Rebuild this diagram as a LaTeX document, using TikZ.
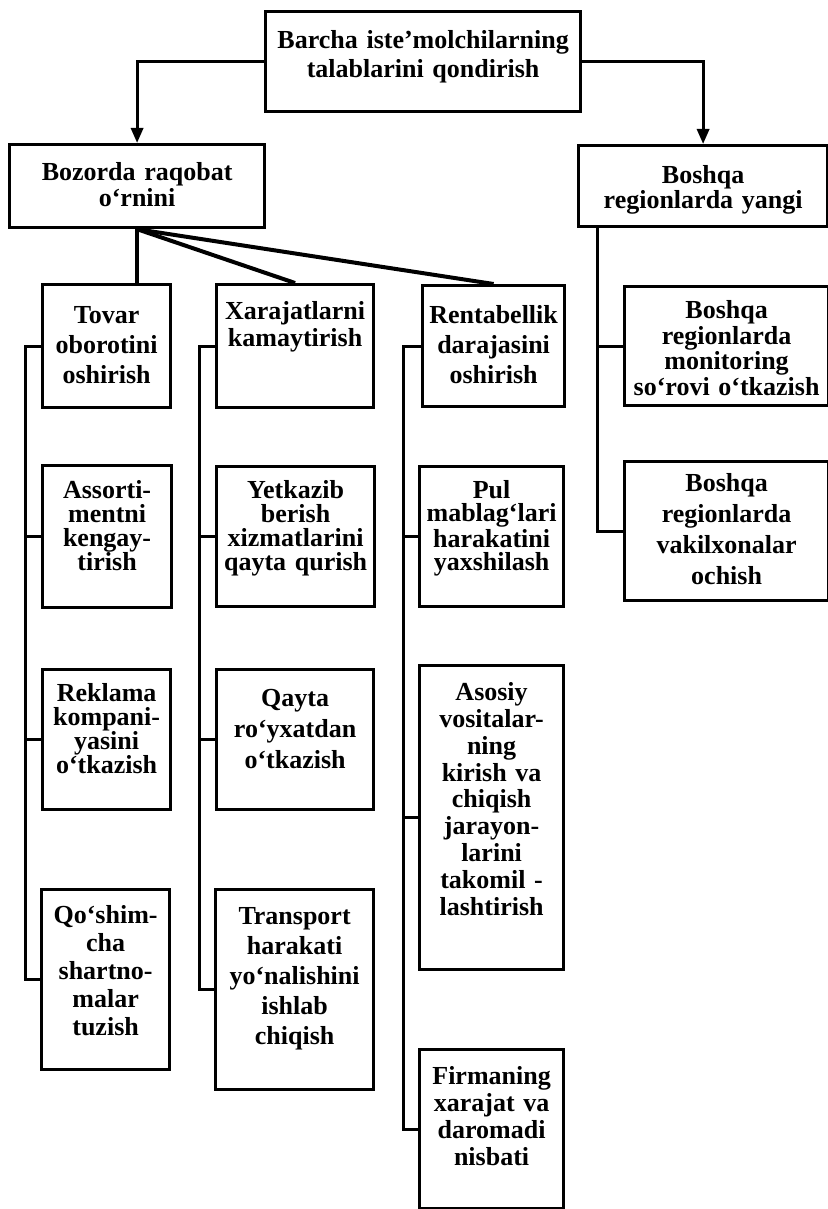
\documentclass[tikz,border=0pt]{standalone}
\usepackage{fontspec}
\setmainfont{Liberation Serif}
\usetikzlibrary{
    arrows.meta
}

\begin{document}
\begin{tikzpicture}[
    x=0.5pt, y=-0.5pt,
    >={Triangle[width=6pt,length=7.5pt]},
    cell/.style={draw, line width=1.6pt, anchor=north west, inner sep=0pt,
        align=center, text height=17pt, font=\bfseries\fontsize{13pt}{14pt}\selectfont},
    lead/.style={font=\bfseries\fontsize{13pt}{#1}\selectfont},
    link/.style={line width=1.5pt},
    fan/.style={line width=2pt},
    arr/.style={->, line width=1.6pt}
]
\useasboundingbox (0,0) rectangle (828,1209);

% Goal and first level
\node[cell, text width=157.5pt, text height=18.5pt, text depth=31.5pt, lead=14.5pt] (goal) at (264,10) {Barcha iste’molchilarning\\talablarini qondirish};
\node[cell, text width=127.5pt, text height=18pt, text depth=23.5pt, lead=11.5pt] (market) at (8,143) {Bozorda raqobat\\o‘rnini};
\node[cell, text width=124.5pt, text height=19pt, text depth=21.5pt, lead=12.5pt] (region) at (577,144) {Boshqa\\regionlarda yangi};

% Turnover column
\node[cell, text width=64pt, text height=19.5pt, text depth=42pt, lead=15pt] (turnover) at (41,283) {Tovar\\oborotini\\oshirish};
\node[cell, text width=64.5pt, text height=16.5pt, text depth=54.5pt, lead=12pt] (assort) at (41,464) {Assorti-\\mentni\\kengay-\\tirish};
\node[cell, text width=64pt, text height=16pt, text depth=54pt, lead=12pt] (ad) at (41,668) {Reklama\\kompani-\\yasini\\o‘tkazish};
\node[cell, text width=64pt, text height=17pt, text depth=73pt, lead=14pt] (contract) at (40,888) {Qo‘shim-\\cha\\shartno-\\malar\\tuzish};

% Cost column
\node[cell, text width=78.5pt, text height=17.5pt, text depth=44pt, lead=13.5pt] (cost) at (215,283) {Xarajatlarni\\kamaytirish};
\node[cell, text width=79pt, text height=16pt, text depth=54pt, lead=12pt] (delivery) at (215,465) {Yetkazib\\berish\\xizmatlarini\\qayta qurish};
\node[cell, text width=78.5pt, text height=18.5pt, text depth=51.5pt, lead=15.5pt] (rereg) at (215,668) {Qayta\\ro‘yxatdan\\o‘tkazish};
\node[cell, text width=79pt, text height=17.5pt, text depth=82.5pt, lead=15pt] (transport) at (214,888) {Transport\\harakati\\yo‘nalishini\\ishlab\\chiqish};

% Profit column
\node[cell, text width=71pt, text height=19pt, text depth=41.5pt, lead=15pt] (profit) at (421,284) {Rentabellik\\darajasini\\oshirish};
\node[cell, text width=72pt, text height=16pt, text depth=54pt, lead=11.5pt] (cash) at (418,465) {Pul\\mablag‘lari\\harakatini\\yaxshilash};
\node[cell, text width=72pt, text height=17.5pt, text depth=134.5pt, lead=13.4pt] (assets) at (418,664) {Asosiy\\vositalar-\\ning\\kirish va\\chiqish\\jarayon-\\larini\\takomil -\\lashtirish};
\node[cell, text width=72pt, text height=17.5pt, text depth=62pt, lead=13.5pt] (ratio) at (418,1048) {Firmaning\\xarajat va\\daromadi\\nisbati};

% Region column
\node[cell, text width=102pt, text height=16pt, text depth=43.5pt, lead=11.5pt] (monitor) at (623,285) {Boshqa\\regionlarda\\monitoring\\so‘rovi o‘tkazish};
\node[cell, text width=102pt, text height=15pt, text depth=54.5pt, lead=15.5pt] (office) at (623,460) {Boshqa\\regionlarda\\vakilxonalar\\ochish};

% Arrows from the goal
\draw[arr] (goal.west) -| (market.north);
\draw[arr] (goal.east) -| (region.north);

% Fan below the market box
\draw[fan] (market.south) -- (market.south |- turnover.north);
\draw[fan] (market.south) -- (cost.north);
\draw[fan] (market.south) -- (profit.north);

% Spines
\draw[link] (turnover.west) -- ++(-16,0) coordinate (s1) |- (contract.west);
\foreach \n in {assort, ad} \draw[link] (\n.west) -- (s1 |- \n.west);
\draw[link] (cost.west) -- ++(-16,0) coordinate (s2) |- (transport.west);
\foreach \n in {delivery, rereg} \draw[link] (\n.west) -- (s2 |- \n.west);
\draw[link] (profit.west) -- ++(-18,0) coordinate (s3) |- (ratio.west);
\foreach \n in {cash, assets} \draw[link] (\n.west) -- (s3 |- \n.west);
\coordinate (s4) at ([xshift=10pt]region.south west);
\draw[link] (s4) |- (office.west);
\draw[link] (monitor.west) -- (s4 |- monitor.west);
\end{tikzpicture}
\end{document}
